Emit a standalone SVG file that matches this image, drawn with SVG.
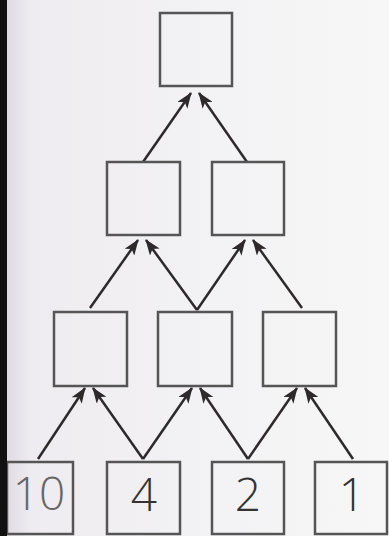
<svg xmlns="http://www.w3.org/2000/svg" width="389" height="536" viewBox="0 0 389 536">
<defs>
<linearGradient id="bg" x1="0" y1="0" x2="1" y2="0">
<stop offset="0" stop-color="#dcd6e0"/>
<stop offset="0.08" stop-color="#eeecf0"/>
<stop offset="1" stop-color="#f7f7f7"/>
</linearGradient>
<marker id="ah" viewBox="0 0 16 12" refX="15" refY="6" markerWidth="16" markerHeight="12" markerUnits="userSpaceOnUse" orient="auto">
<path d="M0,0 L16,6 L0,12 L4,6 Z" fill="#2e2a2c"/>
</marker>
<style>
.box{fill:none;stroke:#555;stroke-width:2.5}
.ar{stroke:#2e2a2c;stroke-width:2.5;fill:none;marker-end:url(#ah)}
.num{font-family:"Open Sans","DejaVu Sans",sans-serif;font-weight:300;font-size:46px;fill:#333;text-anchor:middle}
</style>
</defs>
<rect x="0" y="0" width="389" height="536" fill="url(#bg)"/>
<g id="connectors">
<line class="ar" x1="143" y1="162" x2="191" y2="93"/>
<line class="ar" x1="247" y1="162" x2="199" y2="93"/>
<line class="ar" x1="90" y1="308" x2="138" y2="240"/>
<line class="ar" x1="197" y1="310" x2="146" y2="240"/>
<line class="ar" x1="197" y1="310" x2="245" y2="240"/>
<line class="ar" x1="302" y1="308" x2="253" y2="240"/>
<line class="ar" x1="38" y1="459" x2="85" y2="388"/>
<line class="ar" x1="143" y1="459" x2="93" y2="388"/>
<line class="ar" x1="143" y1="459" x2="192" y2="388"/>
<line class="ar" x1="248" y1="459" x2="200" y2="388"/>
<line class="ar" x1="248" y1="459" x2="297" y2="388"/>
<line class="ar" x1="353" y1="459" x2="305" y2="388"/>
</g>
<g id="top"><rect class="box" x="160" y="13" width="72" height="73"/></g>
<g id="r2a"><rect class="box" x="107" y="162" width="73" height="73"/></g>
<g id="r2b"><rect class="box" x="212" y="162" width="72" height="73"/></g>
<g id="r3a"><rect class="box" x="54" y="312" width="73" height="74"/></g>
<g id="r3b"><rect class="box" x="158" y="312" width="74" height="74"/></g>
<g id="r3c"><rect class="box" x="263" y="312" width="73" height="74"/></g>
<g id="b10"><rect class="box" x="7" y="462" width="66" height="72"/><text class="num" x="39" y="510" style="fill:#666">10</text></g>
<g id="b4"><rect class="box" x="107" y="462" width="73" height="72"/><text class="num" x="144" y="511">4</text></g>
<g id="b2"><rect class="box" x="212" y="462" width="72" height="72"/><text class="num" x="248" y="511">2</text></g>
<g id="b1"><rect class="box" x="315" y="462" width="72" height="72"/><text class="num" x="352" y="511">1</text></g>
<rect x="0" y="0" width="7" height="536" fill="#111"/>
</svg>
